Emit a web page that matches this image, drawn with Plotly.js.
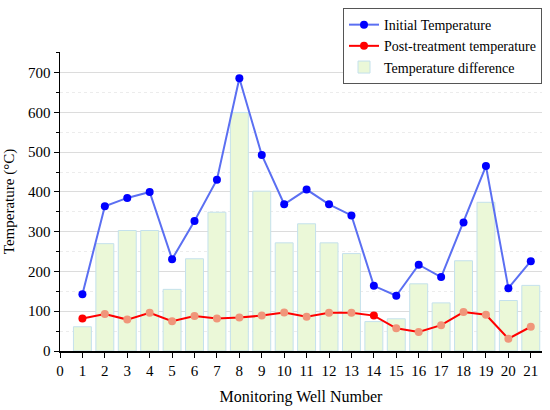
<!DOCTYPE html>
<html>
<head>
<meta charset="utf-8">
<script src="https://cdn.plot.ly/plotly-3.0.1.min.js"></script>
<style>html,body{margin:0;padding:0;background:#fff}#chart{width:550px;height:410px}</style>
</head>
<body>
<div id="chart"></div>
<script>
const wells = [1,2,3,4,5,6,7,8,9,10,11,12,13,14,15,16,17,18,19,20,21];
const initialTemp = [143,364,385,400,231,327,431,686,493,369,406,369,341,164,139,217,186,323,465,158,226];
const postTemp = [82,93,79,96,75,88,82,84,89,97,86,96,96,89,57,48,65,98,91,31,61];
const tempDiff = [61,270,303,303,155,232,349,600,402,272,320,272,245,74,81,169,121,227,374,127,165];
const xTicks = [0,1,2,3,4,5,6,7,8,9,10,11,12,13,14,15,16,17,18,19,20,21];
const yTicks = [0,100,200,300,400,500,600,700];
const postMarkerColors = postTemp.map((v,i)=> (i===0||i===13) ? '#ff0000' : '#f0967a');

const font = '"Liberation Serif", "Times New Roman", serif';

const traces = [
  {
    type:'bar', x:wells, y:tempDiff, name:'Temperature difference',
    width:0.8, legendrank:3,
    marker:{color:'#ebf8d8', line:{color:'#c4e1ec', width:1}}
  },
  {
    type:'scatter', mode:'lines+markers', x:wells, y:postTemp, name:'Post-treatment temperature',
    legendrank:2,
    line:{color:'#ff0000', width:2},
    marker:{color:postMarkerColors, size:8}
  },
  {
    type:'scatter', mode:'lines+markers', x:wells, y:initialTemp, name:'Initial Temperature',
    legendrank:1,
    line:{color:'#5b6ff2', width:2},
    marker:{color:'#0000ff', size:8}
  }
];

const layout = {
  width:550, height:410,
  margin:{l:60, r:8, t:48, b:59},
  paper_bgcolor:'#fff', plot_bgcolor:'#fff',
  font:{family:font, color:'#000', size:15},
  showlegend:true,
  legend:{
    x:1, xanchor:'right', y:1.147, yanchor:'top',
    bordercolor:'#555', borderwidth:1, bgcolor:'#fff',
    font:{family:font, size:14}, tracegroupgap:0,
    itemwidth:30
  },
  xaxis:{
    range:[0,21.5], tickvals:xTicks, ticktext:xTicks.map(String),
    showline:true, linecolor:'#000', linewidth:1.5,
    ticks:'outside', ticklen:5, tickcolor:'#000', showgrid:false, zeroline:false,
    tickfont:{family:font, size:15},
    title:{text:'Monitoring Well Number', font:{family:font, size:16}, standoff:13}
  },
  yaxis:{
    range:[0,752], tickvals:yTicks, ticktext:yTicks.map(String),
    showline:true, linecolor:'#000', linewidth:1.5,
    ticks:'outside', ticklen:5, tickcolor:'#000',
    showgrid:true, gridcolor:'#dcdcdc', gridwidth:1, zeroline:false,
    minor:{dtick:50, tick0:0, ticks:'outside', ticklen:3, tickcolor:'#000', showgrid:true, gridcolor:'#ececec', griddash:'dot'},
    tickfont:{family:font, size:15},
    title:{text:'Temperature (°C)', font:{family:font, size:15}, standoff:10}
  },
  bargap:0.2
};

Plotly.newPlot('chart', traces, layout, {displayModeBar:false, staticPlot:true});
</script>
</body>
</html>
